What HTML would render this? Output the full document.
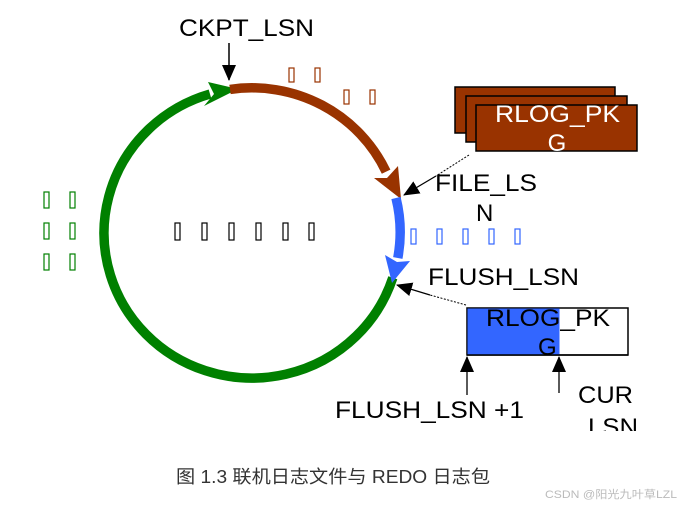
<!DOCTYPE html>
<html><head><meta charset="utf-8"><style>
body{margin:0;background:#fff;}
svg{display:block;}
text{font-family:"Liberation Sans","Noto Sans CJK SC",sans-serif;}
</style></head><body>
<svg width="681" height="507" viewBox="0 0 681 507" xmlns="http://www.w3.org/2000/svg">
<defs>
<marker id="ah2" markerWidth="16" markerHeight="16" refX="15" refY="8" orient="auto" markerUnits="userSpaceOnUse"><path d="M0,1 L16,8 L0,15 Z" fill="#000"/></marker>
</defs>
<!-- green arc -->
<path d="M392.8,277.8 A148,145 0 1 1 210,94" fill="none" stroke="#008000" stroke-width="9.5"/>
<polygon points="204,106 238,89 208,82 214,94" fill="#008000"/>
<!-- brown arc -->
<path d="M230,89.4 A148,145 0 0 1 386.1,171.7" fill="none" stroke="#993300" stroke-width="9.5"/>
<polygon points="398,166 401,199 374,178 387,178" fill="#993300"/>
<!-- blue arc -->
<path d="M396,198 A148,145 0 0 1 397.8,258" fill="none" stroke="#3366ff" stroke-width="9.5"/>
<polygon points="410,261 392,283 385,255 397,262" fill="#3366ff"/>
<!-- CKPT -->
<text x="179" y="36" font-size="24" textLength="135" lengthAdjust="spacingAndGlyphs">CKPT_LSN</text>
<line x1="229" y1="43" x2="229" y2="80" stroke="#000" stroke-width="1.5" marker-end="url(#ah2)"/>
<!-- tofu boxes -->
<g fill="none" stroke="#993300" stroke-width="1.2">
<rect x="289" y="68" width="5" height="14"/><rect x="315" y="68" width="5" height="14"/>
<rect x="344" y="90" width="5" height="14"/><rect x="370" y="90" width="5" height="14"/>
</g>
<g fill="none" stroke="#3366ff" stroke-width="1.2">
<rect x="411" y="229" width="5" height="15"/><rect x="437" y="229" width="5" height="15"/>
<rect x="463" y="229" width="5" height="15"/><rect x="489" y="229" width="5" height="15"/>
<rect x="515" y="229" width="5" height="15"/>
</g>
<g fill="none" stroke="#000" stroke-width="1.2">
<rect x="175" y="223" width="5" height="17"/><rect x="202" y="223" width="5" height="17"/>
<rect x="229" y="223" width="5" height="17"/><rect x="256" y="223" width="5" height="17"/>
<rect x="283" y="223" width="5" height="17"/><rect x="309" y="223" width="5" height="17"/>
</g>
<g fill="none" stroke="#008000" stroke-width="1.2">
<rect x="44" y="192" width="5" height="16"/><rect x="70" y="192" width="5" height="16"/>
<rect x="44" y="223" width="5" height="16"/><rect x="70" y="223" width="5" height="16"/>
<rect x="44" y="254" width="5" height="16"/><rect x="70" y="254" width="5" height="16"/>
</g>
<!-- RLOG stack -->
<rect x="455" y="87" width="160" height="46" fill="#993300" stroke="#000" stroke-width="1.5"/>
<rect x="466" y="96" width="161" height="46" fill="#993300" stroke="#000" stroke-width="1.5"/>
<rect x="476" y="105" width="161" height="46" fill="#993300" stroke="#000" stroke-width="1.5"/>
<text x="495" y="122" font-size="24" fill="#fff" textLength="125" lengthAdjust="spacingAndGlyphs">RLOG_PK</text>
<text x="557" y="151" font-size="24" fill="#fff" text-anchor="middle">G</text>
<line x1="469" y1="155" x2="436" y2="176" stroke="#000" stroke-width="1" stroke-dasharray="2,1.5"/>
<line x1="436" y1="176" x2="404" y2="195" stroke="#000" stroke-width="1.3" marker-end="url(#ah2)"/>
<text x="435" y="191" font-size="24" textLength="102" lengthAdjust="spacingAndGlyphs">FILE_LS</text>
<text x="476" y="221" font-size="24">N</text>
<!-- FLUSH -->
<text x="428" y="285" font-size="24" textLength="151" lengthAdjust="spacingAndGlyphs">FLUSH_LSN</text>
<line x1="466" y1="305" x2="430" y2="295" stroke="#000" stroke-width="1" stroke-dasharray="2,1.5"/>
<line x1="430" y1="295" x2="397" y2="285" stroke="#000" stroke-width="1.3" marker-end="url(#ah2)"/>
<rect x="467" y="308" width="161" height="47" fill="#fff" stroke="#000" stroke-width="1.5"/>
<rect x="467.5" y="308.5" width="92" height="46" fill="#3366ff"/>
<line x1="467" y1="355" x2="628" y2="355" stroke="#000" stroke-width="1.5"/>
<text x="486" y="326" font-size="24" textLength="124" lengthAdjust="spacingAndGlyphs">RLOG_PK</text>
<text x="538" y="355" font-size="24">G</text>
<line x1="467" y1="395" x2="467" y2="357" stroke="#000" stroke-width="1.3" marker-end="url(#ah2)"/>
<line x1="559" y1="393" x2="559" y2="357" stroke="#000" stroke-width="1.3" marker-end="url(#ah2)"/>
<text x="335" y="418" font-size="24" textLength="189" lengthAdjust="spacingAndGlyphs">FLUSH_LSN +1</text>
<text x="578" y="403" font-size="24" textLength="55" lengthAdjust="spacingAndGlyphs">CUR</text>
<text x="588" y="435" font-size="24" textLength="50" lengthAdjust="spacingAndGlyphs">LSN</text>
<rect x="0" y="431" width="681" height="40" fill="#fff"/>
<!-- caption -->
<text x="176" y="483" font-size="18" fill="#333" textLength="314" lengthAdjust="spacingAndGlyphs">图 1.3 联机日志文件与 REDO 日志包</text>
<text x="545" y="498" font-size="11" fill="#bbb" textLength="132" lengthAdjust="spacingAndGlyphs">CSDN @阳光九叶草LZL</text>
</svg>
</body></html>
